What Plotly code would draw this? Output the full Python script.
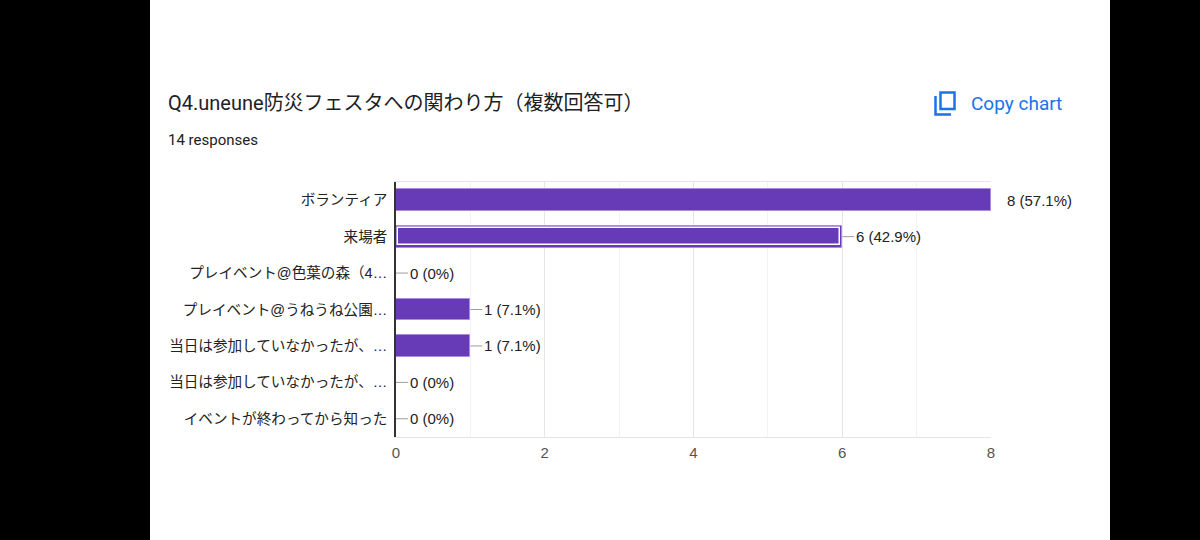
######################################################
######   Q4 RESPONSES - HORIZONTAL BAR CHART   ########

# load the required modules
import plotly.graph_objects as go

# Data
categories = [
    'ボランティア',
    '来場者',
    'プレイベント@色葉の森（4…',
    'プレイベント@うねうね公園…',
    '当日は参加していなかったが、…',
    '当日は参加していなかったが、…',
    'イベントが終わってから知った',
]
counts = [8, 6, 0, 1, 1, 0, 0]
total_responses = 14
highlighted = '来場者'
x_ticks = [0, 2, 4, 6, 8]

title_text = 'Q4.uneune防災フェスタへの関わり方（複数回答可）'
subtitle_text = f'{total_responses} responses'

# Layout in pixels (plot area of the 1200x540 frame)
W, H = 1200, 540
L, R, T, B = 396, 991, 182, 437

def px_x(px):
    # pixel -> paper x
    return (px - L) / (R - L)

def px_y(py):
    # pixel -> paper y
    return (B - py) / (B - T)

header_font = "Roboto, 'Noto Sans CJK JP', sans-serif"
chart_font = "'Liberation Sans', Arial, 'Noto Sans CJK JP', sans-serif"
purple = '#673ab7'
blue = '#1a73e8'

positions = list(range(len(categories)))
labels = [f'{c} ({c / total_responses * 100:.1f}%)'.replace('.0%', '%') for c in counts]

fig = go.Figure()

# Main bars
fig.add_trace(go.Bar(
    x=counts,
    y=positions,
    orientation='h',
    width=0.6,
    marker=dict(color=purple, line=dict(color='#a98ce0', width=1)),
    hoverinfo='skip',
    showlegend=False,
))

# Highlight outline (inset white border) on the selected bar
hi = categories.index(highlighted)
inset = 0.03
fig.add_trace(go.Bar(
    x=[counts[hi] - 2 * inset],
    y=[hi],
    base=[inset],
    orientation='h',
    width=0.48,
    marker=dict(color='rgba(0,0,0,0)', line=dict(color='white', width=1.5)),
    hoverinfo='skip',
    showlegend=False,
))

# Value labels with short leader lines
annotations = []
for pos, c, lab in zip(positions, counts, labels):
    if c == max(x_ticks):
        annotations.append(dict(x=c, y=pos, xref='x', yref='y', text=lab, showarrow=False,
                                xanchor='left', xshift=14, font=dict(size=15, color='#222222')))
    else:
        annotations.append(dict(x=c, y=pos, xref='x', yref='y', text=lab, showarrow=True,
                                arrowhead=0, arrowwidth=1, arrowcolor='#9e9e9e', ax=12, ay=0,
                                xanchor='left', font=dict(size=15, color='#222222')))

# Header texts
annotations.append(dict(x=px_x(166), y=px_y(103), xref='paper', yref='paper', text=title_text,
                        showarrow=False, xanchor='left', yanchor='middle',
                        font=dict(family=header_font, size=20, color='#202124')))
annotations.append(dict(x=px_x(166), y=px_y(140), xref='paper', yref='paper', text=subtitle_text,
                        showarrow=False, xanchor='left', yanchor='middle',
                        font=dict(family=header_font, size=15, color='#202124')))
annotations.append(dict(x=px_x(969), y=px_y(103), xref='paper', yref='paper', text='Copy chart',
                        showarrow=False, xanchor='left', yanchor='middle',
                        font=dict(family=header_font, size=19, color=blue)))

shapes = [
    # white page on the black screen
    dict(type='rect', xref='paper', yref='paper', x0=px_x(150), x1=px_x(1110),
         y0=px_y(H + 5), y1=px_y(-5), fillcolor='white', line=dict(width=0), layer='below'),
    # copy icon: front sheet
    dict(type='rect', xref='paper', yref='paper', x0=px_x(940.5), x1=px_x(954.5),
         y0=px_y(109), y1=px_y(92.5), line=dict(color=blue, width=2.5)),
    # copy icon: back sheet
    dict(type='path', xref='paper', yref='paper',
         path=f'M {px_x(935.5)},{px_y(96)} L {px_x(935.5)},{px_y(114.5)} L {px_x(951)},{px_y(114.5)}',
         line=dict(color=blue, width=2.5)),
]

fig.update_layout(
    width=W,
    height=H,
    margin=dict(l=L, r=W - R, t=T, b=H - B, pad=0),
    paper_bgcolor='black',
    plot_bgcolor='white',
    font=dict(family=chart_font, size=15, color='#222222'),
    bargap=0,
    barmode='overlay',
    annotations=annotations,
    shapes=shapes,
    xaxis=dict(
        range=[0, 8],
        tickvals=x_ticks,
        showgrid=True,
        gridcolor='#e6e6e6',
        minor=dict(dtick=1, showgrid=True, gridcolor='#f3f3f3'),
        showline=True,
        mirror=True,
        linecolor='#e6e6e6',
        zeroline=False,
        ticks='',
        tickfont=dict(size=15, color='#555555'),
        ticklabelstandoff=2,
        fixedrange=True,
    ),
    yaxis=dict(
        tickvals=positions,
        ticktext=categories,
        range=[len(categories) - 0.5, -0.5],
        showgrid=False,
        showline=True,
        linecolor='#333333',
        linewidth=1.5,
        zeroline=False,
        ticks='',
        ticklabelstandoff=4,
        tickfont=dict(size=14.6, color='#222222'),
        fixedrange=True,
    ),
)

# Save without the default page margin or modebar so the figure fills the window
fig.write_html('out.html', config={'displayModeBar': False},
               post_script="document.body.style.margin='0';")
